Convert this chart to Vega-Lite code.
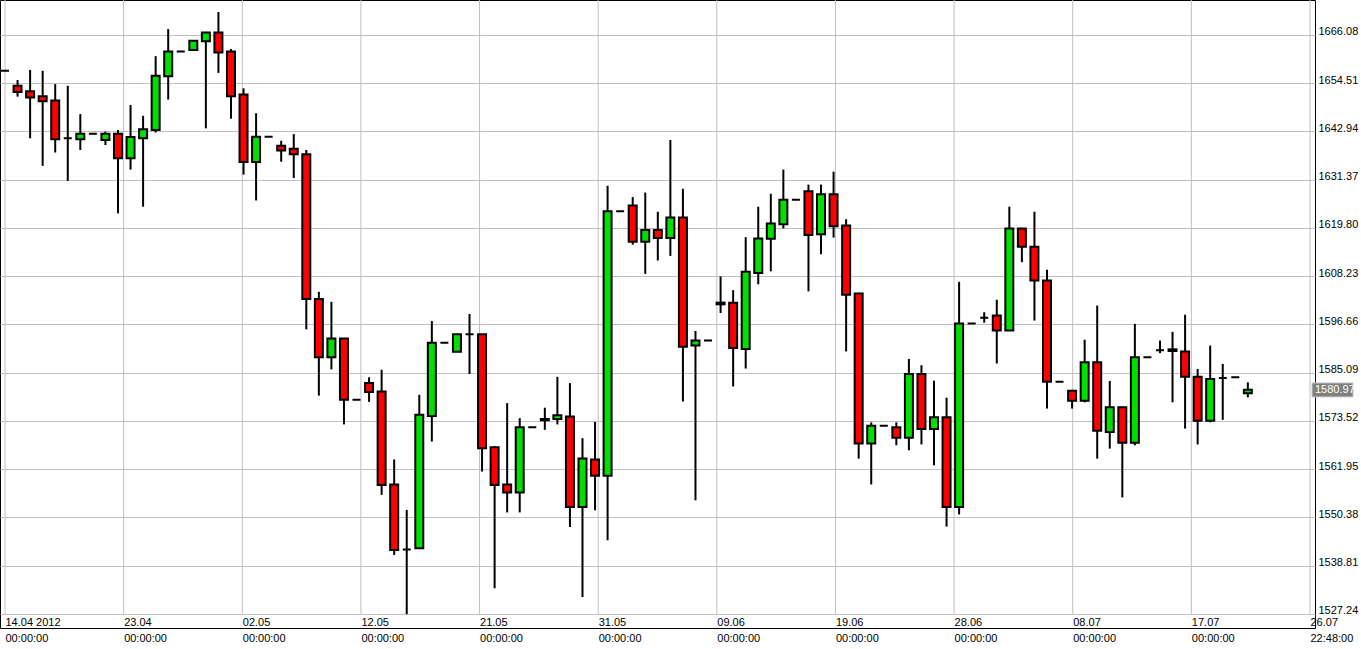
{
  "$schema": "https://vega.github.io/schema/vega-lite/v6.json",
  "width": 1315,
  "height": 628,
  "autosize": {"type": "none"},
  "padding": {"left": 0, "top": 0, "right": 46, "bottom": 21},
  "background": "white",
  "config": {
    "view": {"stroke": "black", "strokeWidth": 1},
    "axis": {"labelFont": "Liberation Sans", "labelFontSize": 11, "labelColor": "black", "title": null}
  },
  "datasets": {
    "candles": [
      {"date": "2012-04-14", "open": 1657.5, "high": 1657.5, "low": 1657.5, "close": 1657.5},
      {"date": "2012-04-15", "open": 1653.9, "high": 1655.3, "low": 1651.3, "close": 1652.4},
      {"date": "2012-04-16", "open": 1652.6, "high": 1657.7, "low": 1641.3, "close": 1651.1},
      {"date": "2012-04-17", "open": 1651.4, "high": 1657.5, "low": 1634.7, "close": 1650.2},
      {"date": "2012-04-18", "open": 1650.4, "high": 1654.3, "low": 1637.9, "close": 1641.1},
      {"date": "2012-04-19", "open": 1641.3, "high": 1653.9, "low": 1631.1, "close": 1641.3},
      {"date": "2012-04-20", "open": 1641.1, "high": 1647.1, "low": 1638.5, "close": 1642.4},
      {"date": "2012-04-21", "open": 1642.4, "high": 1642.4, "low": 1642.4, "close": 1642.4},
      {"date": "2012-04-22", "open": 1640.9, "high": 1642.9, "low": 1639.7, "close": 1642.4},
      {"date": "2012-04-23", "open": 1642.4, "high": 1643.3, "low": 1623.3, "close": 1636.5},
      {"date": "2012-04-24", "open": 1636.5, "high": 1649.3, "low": 1633.8, "close": 1641.6},
      {"date": "2012-04-25", "open": 1641.3, "high": 1646.7, "low": 1624.9, "close": 1643.5},
      {"date": "2012-04-26", "open": 1643.3, "high": 1661.0, "low": 1642.7, "close": 1656.3},
      {"date": "2012-04-27", "open": 1656.2, "high": 1667.5, "low": 1650.6, "close": 1662.1},
      {"date": "2012-04-28", "open": 1662.1, "high": 1662.1, "low": 1662.1, "close": 1662.1},
      {"date": "2012-04-29", "open": 1662.5, "high": 1664.7, "low": 1662.5, "close": 1664.7},
      {"date": "2012-04-30", "open": 1664.6, "high": 1666.7, "low": 1643.7, "close": 1666.7},
      {"date": "2012-05-01", "open": 1666.7, "high": 1671.6, "low": 1657.0, "close": 1661.9},
      {"date": "2012-05-02", "open": 1662.1, "high": 1662.7, "low": 1646.0, "close": 1651.4},
      {"date": "2012-05-03", "open": 1651.8, "high": 1653.3, "low": 1632.6, "close": 1635.6},
      {"date": "2012-05-04", "open": 1635.6, "high": 1647.3, "low": 1626.4, "close": 1641.7},
      {"date": "2012-05-05", "open": 1641.7, "high": 1641.7, "low": 1641.7, "close": 1641.7},
      {"date": "2012-05-06", "open": 1639.5, "high": 1640.7, "low": 1635.7, "close": 1638.4},
      {"date": "2012-05-07", "open": 1638.8, "high": 1642.3, "low": 1631.8, "close": 1637.5},
      {"date": "2012-05-08", "open": 1637.5, "high": 1638.5, "low": 1595.5, "close": 1602.8},
      {"date": "2012-05-09", "open": 1602.8, "high": 1604.5, "low": 1579.6, "close": 1588.8},
      {"date": "2012-05-10", "open": 1588.8, "high": 1602.1, "low": 1585.9, "close": 1593.3},
      {"date": "2012-05-11", "open": 1593.3, "high": 1593.3, "low": 1572.7, "close": 1578.6},
      {"date": "2012-05-12", "open": 1578.6, "high": 1578.6, "low": 1578.6, "close": 1578.6},
      {"date": "2012-05-13", "open": 1582.6, "high": 1584.0, "low": 1578.1, "close": 1580.5},
      {"date": "2012-05-14", "open": 1580.6, "high": 1585.8, "low": 1555.8, "close": 1558.2},
      {"date": "2012-05-15", "open": 1558.3, "high": 1564.3, "low": 1541.4, "close": 1542.6},
      {"date": "2012-05-16", "open": 1542.7, "high": 1552.2, "low": 1527.2, "close": 1542.7},
      {"date": "2012-05-17", "open": 1543.0, "high": 1579.8, "low": 1543.0, "close": 1575.0},
      {"date": "2012-05-18", "open": 1574.7, "high": 1597.5, "low": 1568.6, "close": 1592.3},
      {"date": "2012-05-19", "open": 1592.3, "high": 1592.3, "low": 1592.3, "close": 1592.3},
      {"date": "2012-05-20", "open": 1590.1, "high": 1594.3, "low": 1590.1, "close": 1594.3},
      {"date": "2012-05-21", "open": 1594.3, "high": 1599.2, "low": 1584.8, "close": 1594.3},
      {"date": "2012-05-22", "open": 1594.3, "high": 1594.3, "low": 1561.4, "close": 1567.0},
      {"date": "2012-05-23", "open": 1567.2, "high": 1567.5, "low": 1533.4, "close": 1558.2},
      {"date": "2012-05-24", "open": 1558.3, "high": 1577.8, "low": 1551.6, "close": 1556.4},
      {"date": "2012-05-25", "open": 1556.4, "high": 1574.2, "low": 1551.6, "close": 1572.0},
      {"date": "2012-05-26", "open": 1572.0, "high": 1572.0, "low": 1572.0, "close": 1572.0},
      {"date": "2012-05-27", "open": 1573.7, "high": 1576.7, "low": 1571.4, "close": 1574.0},
      {"date": "2012-05-28", "open": 1574.0, "high": 1584.1, "low": 1572.7, "close": 1574.9},
      {"date": "2012-05-29", "open": 1574.6, "high": 1582.6, "low": 1548.1, "close": 1552.9},
      {"date": "2012-05-30", "open": 1552.9, "high": 1569.4, "low": 1531.3, "close": 1564.5},
      {"date": "2012-05-31", "open": 1564.3, "high": 1573.3, "low": 1552.1, "close": 1560.4},
      {"date": "2012-06-01", "open": 1560.4, "high": 1629.9, "low": 1544.9, "close": 1623.8},
      {"date": "2012-06-02", "open": 1623.8, "high": 1623.8, "low": 1623.8, "close": 1623.8},
      {"date": "2012-06-03", "open": 1625.2, "high": 1627.2, "low": 1615.8, "close": 1616.5},
      {"date": "2012-06-04", "open": 1616.5, "high": 1628.3, "low": 1608.8, "close": 1619.3},
      {"date": "2012-06-05", "open": 1619.3, "high": 1623.7, "low": 1612.0, "close": 1617.4},
      {"date": "2012-06-06", "open": 1617.4, "high": 1640.9, "low": 1613.1, "close": 1622.3},
      {"date": "2012-06-07", "open": 1622.3, "high": 1629.2, "low": 1578.2, "close": 1591.3},
      {"date": "2012-06-08", "open": 1591.6, "high": 1595.1, "low": 1554.5, "close": 1592.8},
      {"date": "2012-06-09", "open": 1592.8, "high": 1592.8, "low": 1592.8, "close": 1592.8},
      {"date": "2012-06-10", "open": 1601.5, "high": 1608.2, "low": 1599.4, "close": 1601.9},
      {"date": "2012-06-11", "open": 1601.9, "high": 1604.9, "low": 1581.8, "close": 1591.0},
      {"date": "2012-06-12", "open": 1590.8, "high": 1617.6, "low": 1586.1, "close": 1609.3},
      {"date": "2012-06-13", "open": 1609.0, "high": 1624.9, "low": 1606.3, "close": 1617.3},
      {"date": "2012-06-14", "open": 1617.2, "high": 1628.0, "low": 1609.4, "close": 1620.9},
      {"date": "2012-06-15", "open": 1620.7, "high": 1633.8, "low": 1619.7, "close": 1626.6},
      {"date": "2012-06-16", "open": 1626.6, "high": 1626.6, "low": 1626.6, "close": 1626.6},
      {"date": "2012-06-17", "open": 1628.6, "high": 1630.2, "low": 1604.6, "close": 1618.1},
      {"date": "2012-06-18", "open": 1618.3, "high": 1630.2, "low": 1613.5, "close": 1627.9},
      {"date": "2012-06-19", "open": 1627.9, "high": 1633.3, "low": 1617.5, "close": 1620.2},
      {"date": "2012-06-20", "open": 1620.4, "high": 1621.9, "low": 1590.2, "close": 1603.8},
      {"date": "2012-06-21", "open": 1604.1, "high": 1604.3, "low": 1564.5, "close": 1568.1},
      {"date": "2012-06-22", "open": 1568.1, "high": 1573.2, "low": 1558.3, "close": 1572.4},
      {"date": "2012-06-23", "open": 1572.4, "high": 1572.4, "low": 1572.4, "close": 1572.4},
      {"date": "2012-06-24", "open": 1572.0, "high": 1573.2, "low": 1567.7, "close": 1569.5},
      {"date": "2012-06-25", "open": 1569.5, "high": 1588.4, "low": 1566.5, "close": 1584.8},
      {"date": "2012-06-26", "open": 1584.8, "high": 1586.9, "low": 1567.9, "close": 1571.6},
      {"date": "2012-06-27", "open": 1571.6, "high": 1583.2, "low": 1562.9, "close": 1574.4},
      {"date": "2012-06-28", "open": 1574.4, "high": 1579.1, "low": 1548.2, "close": 1552.9},
      {"date": "2012-06-29", "open": 1552.9, "high": 1606.9, "low": 1551.1, "close": 1596.9},
      {"date": "2012-06-30", "open": 1596.9, "high": 1596.9, "low": 1596.9, "close": 1596.9},
      {"date": "2012-07-01", "open": 1598.3, "high": 1599.6, "low": 1597.1, "close": 1598.3},
      {"date": "2012-07-02", "open": 1598.8, "high": 1602.6, "low": 1587.3, "close": 1595.2},
      {"date": "2012-07-03", "open": 1595.2, "high": 1624.9, "low": 1595.2, "close": 1619.7},
      {"date": "2012-07-04", "open": 1619.7, "high": 1619.7, "low": 1611.6, "close": 1615.3},
      {"date": "2012-07-05", "open": 1615.3, "high": 1623.7, "low": 1597.6, "close": 1607.2},
      {"date": "2012-07-06", "open": 1607.2, "high": 1609.8, "low": 1576.5, "close": 1582.9},
      {"date": "2012-07-07", "open": 1582.9, "high": 1582.9, "low": 1582.9, "close": 1582.9},
      {"date": "2012-07-08", "open": 1580.8, "high": 1581.0, "low": 1576.5, "close": 1578.4},
      {"date": "2012-07-09", "open": 1578.4, "high": 1593.0, "low": 1578.0, "close": 1587.6},
      {"date": "2012-07-10", "open": 1587.6, "high": 1601.2, "low": 1564.5, "close": 1571.2},
      {"date": "2012-07-11", "open": 1570.9, "high": 1583.1, "low": 1566.9, "close": 1576.8},
      {"date": "2012-07-12", "open": 1576.8, "high": 1577.0, "low": 1555.2, "close": 1568.3},
      {"date": "2012-07-13", "open": 1568.3, "high": 1596.8, "low": 1567.7, "close": 1588.8},
      {"date": "2012-07-14", "open": 1588.8, "high": 1588.8, "low": 1588.8, "close": 1588.8},
      {"date": "2012-07-15", "open": 1590.5, "high": 1592.8, "low": 1589.8, "close": 1590.5},
      {"date": "2012-07-16", "open": 1590.7, "high": 1594.9, "low": 1578.0, "close": 1590.3},
      {"date": "2012-07-17", "open": 1590.2, "high": 1599.0, "low": 1571.7, "close": 1584.1},
      {"date": "2012-07-18", "open": 1584.1, "high": 1586.0, "low": 1567.9, "close": 1573.6},
      {"date": "2012-07-19", "open": 1573.6, "high": 1591.6, "low": 1573.2, "close": 1583.6},
      {"date": "2012-07-20", "open": 1583.8, "high": 1587.2, "low": 1573.8, "close": 1583.8},
      {"date": "2012-07-21", "open": 1584.0, "high": 1584.0, "low": 1584.0, "close": 1584.0},
      {"date": "2012-07-22", "open": 1580.2, "high": 1582.8, "low": 1579.2, "close": 1581.0}
    ],
    "gridx": [
      {"t": 1334361600000}, {"t": 1335178080000}, {"t": 1335994560000}, {"t": 1336811040000},
      {"t": 1337627520000}, {"t": 1338444000000}, {"t": 1339260480000}, {"t": 1340076960000},
      {"t": 1340893440000}, {"t": 1341709920000}, {"t": 1342526400000}, {"t": 1343342880000}
    ],
    "last": [{"price": 1580.97}]
  },
  "layer": [
    {
      "data": {"name": "gridx"},
      "mark": {"type": "rule", "color": "#c0c0c0", "strokeWidth": 1},
      "encoding": {
        "x": {
          "field": "t", "type": "temporal",
          "scale": {"type": "utc", "domain": [1334361600000, 1343342880000], "nice": false},
          "axis": {
            "values": [1334361600000, 1335178080000, 1335994560000, 1336811040000, 1337627520000, 1338444000000, 1339260480000, 1340076960000, 1340893440000, 1341709920000, 1342526400000, 1343342880000],
            "labelExpr": "[datum.value < 1334400000000 ? utcFormat(datum.value, '%d.%m %Y') : utcFormat(datum.value, '%d.%m'), datum.value > 1343000000000 ? utcFormat(datum.value, '%H:%M:%S') : '00:00:00']",
            "grid": false, "domain": false, "ticks": false, "tickSize": 0,
            "labelPadding": -3, "labelAlign": "left", "labelBaseline": "alphabetic",
            "labelLineHeight": 16, "labelOverlap": false, "labelFlush": false, "labelBound": false
          }
        },
        "y": {
          "datum": 1527.24, "type": "quantitative",
          "scale": {"domain": [1523.88, 1674.47], "nice": false, "zero": false},
          "axis": {
            "orient": "right",
            "values": [1527.24, 1538.81, 1550.38, 1561.95, 1573.52, 1585.09, 1596.66, 1608.23, 1619.80, 1631.37, 1642.94, 1654.51, 1666.08],
            "format": ".2f", "grid": true, "gridColor": "#c0c0c0", "gridWidth": 1,
            "domain": false, "ticks": false, "tickSize": 0, "labelPadding": 3,
            "labelAlign": "left", "labelBaseline": "alphabetic", "labelOverlap": false, "labelBound": false
          }
        },
        "y2": {"datum": 1674.47}
      }
    },
    {
      "data": {"name": "candles"},
      "encoding": {
        "x": {"field": "date", "type": "temporal"}
      },
      "layer": [
        {
          "mark": {"type": "rule", "color": "black", "strokeWidth": 2},
          "encoding": {
            "y": {"field": "low", "type": "quantitative"},
            "y2": {"field": "high"}
          }
        },
        {
          "mark": {"type": "bar", "width": 8, "stroke": "black", "strokeWidth": 2},
          "encoding": {
            "y": {"field": "open", "type": "quantitative"},
            "y2": {"field": "close"},
            "fill": {"condition": {"test": "datum.close >= datum.open", "value": "#00e000"}, "value": "#ff0000"}
          }
        }
      ]
    },
    {
      "data": {"name": "last"},
      "encoding": {
        "x": {"datum": {"year": 2012, "month": 7, "date": 26, "hours": 22, "minutes": 48, "utc": true}, "type": "temporal"},
        "y": {"field": "price", "type": "quantitative"}
      },
      "layer": [
        {
          "mark": {"type": "rect", "fill": "#808080", "stroke": "#c8c8c8", "strokeWidth": 1, "clip": false, "xOffset": 2, "x2Offset": 43, "yOffset": -7, "y2Offset": 7},
          "encoding": {
            "x2": {"datum": {"year": 2012, "month": 7, "date": 26, "hours": 22, "minutes": 48, "utc": true}},
            "y2": {"field": "price"}
          }
        },
        {
          "mark": {"type": "text", "color": "white", "font": "Liberation Sans", "fontSize": 11, "align": "left", "baseline": "middle", "dx": 5, "clip": false},
          "encoding": {
            "text": {"field": "price", "type": "quantitative", "format": ".2f"}
          }
        }
      ]
    }
  ]
}
